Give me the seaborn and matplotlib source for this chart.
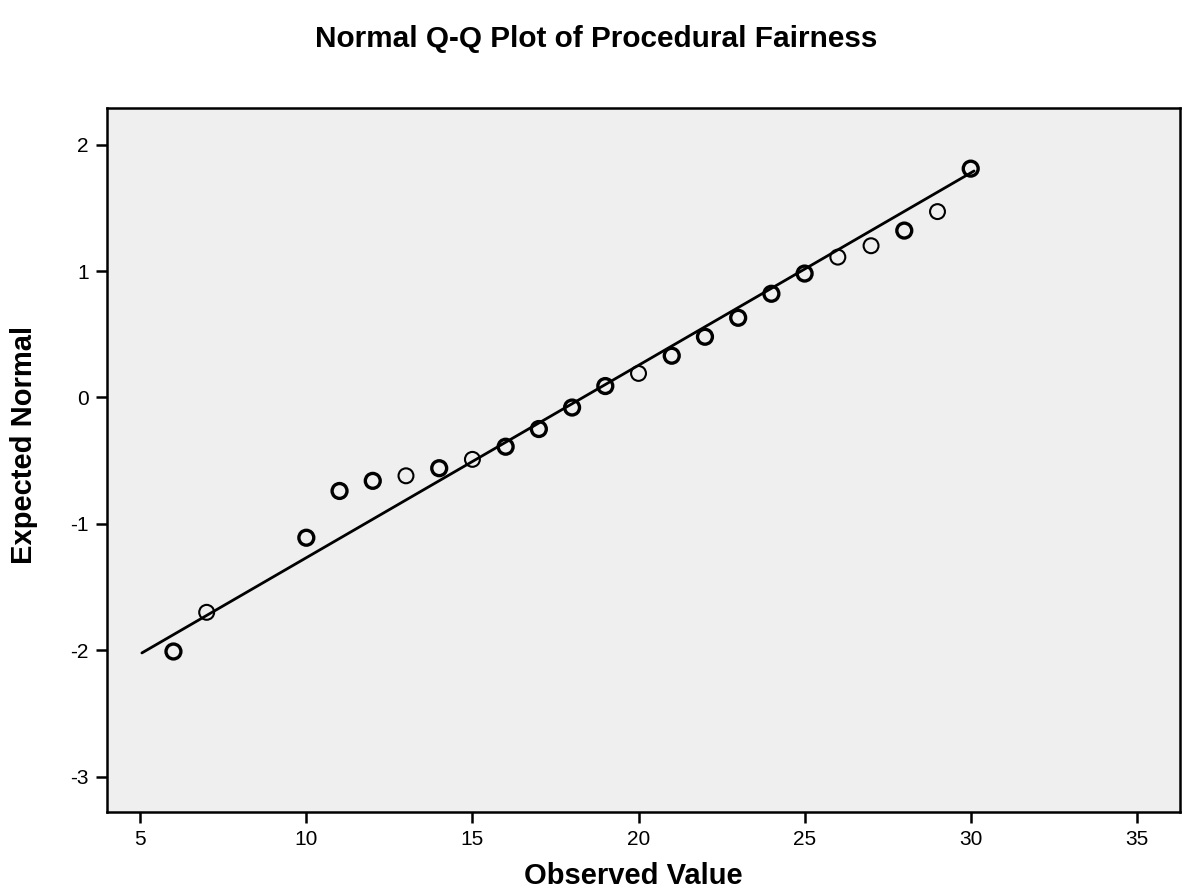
import matplotlib
matplotlib.use("Agg")
import matplotlib.pyplot as plt
import seaborn as sns
import numpy as np
import pandas as pd

# Observed values and their expected normal scores
observed = [6, 7, 10, 11, 12, 13, 14, 15, 16, 17, 18, 19, 20, 21, 22, 23, 24, 25, 26, 27, 28, 29, 30]
expected = [-2.01, -1.70, -1.11, -0.74, -0.66, -0.62, -0.56, -0.49, -0.39, -0.25, -0.08,
            0.09, 0.19, 0.33, 0.48, 0.63, 0.82, 0.98, 1.11, 1.20, 1.32, 1.47, 1.81]
# cases sharing each value (stacked markers look heavier)
cases = [2, 1, 2, 2, 2, 1, 2, 1, 2, 2, 2, 2, 1, 2, 2, 2, 2, 2, 1, 1, 2, 1, 2]

# reference line: standardised values, z = (x - mean) / sd
ref_mean = 18.33
ref_sd = 6.57
ref_range = [5.05, 30.1]

x_ticks = [5, 10, 15, 20, 25, 30, 35]
y_ticks = [-3, -2, -1, 0, 1, 2]

sns.set_theme(style="white")
plt.rcParams["font.family"] = ["Liberation Sans", "DejaVu Sans"]
plt.rcParams["axes.unicode_minus"] = False

fig = plt.figure(figsize=(11.93, 8.90), dpi=100)
ax = fig.add_axes([0.0897, 0.0876, 0.8994, 0.7911])
ax.set_facecolor("#EFEFEF")

df = pd.DataFrame({"observed": observed, "expected": expected, "cases": cases})
line_x = np.array(ref_range)
line_df = pd.DataFrame({"x": line_x, "z": (line_x - ref_mean) / ref_sd})
sns.lineplot(data=line_df, x="x", y="z", ax=ax, color="black", linewidth=2.0, zorder=2)

for n, width in [(1, 1.5), (2, 2.4)]:
    sub = df[df["cases"] == n]
    sns.scatterplot(data=sub, x="observed", y="expected", ax=ax, s=115,
                    facecolor="none", edgecolor="black", linewidth=width, zorder=3)

ax.set_xlim(4.0, 36.3)
ax.set_ylim(-3.28, 2.29)
ax.set_xticks(x_ticks)
ax.set_yticks(y_ticks)
ax.tick_params(axis="both", which="major", direction="out", length=8, width=1.8,
               color="black", labelsize=15, labelcolor="black", pad=5, bottom=True, left=True)

for side in ["left", "bottom", "top", "right"]:
    ax.spines[side].set_visible(True)
    ax.spines[side].set_color("black")
    ax.spines[side].set_linewidth(1.8)

ax.set_xlabel("Observed Value", fontsize=21, fontweight="bold", color="black",
              va="center", ha="center")
ax.xaxis.set_label_coords(0.4907, -0.0905)
ax.set_ylabel("Expected Normal", fontsize=21, fontweight="bold", color="black",
              va="center", ha="center")
ax.yaxis.set_label_coords(-0.0775, 0.521)
fig.text(0.5, 0.956, "Normal Q-Q Plot of Procedural Fairness", fontsize=21.4, fontweight="bold",
         ha="center", va="center", color="black")

fig.savefig("out.png", dpi=100, facecolor="white")
